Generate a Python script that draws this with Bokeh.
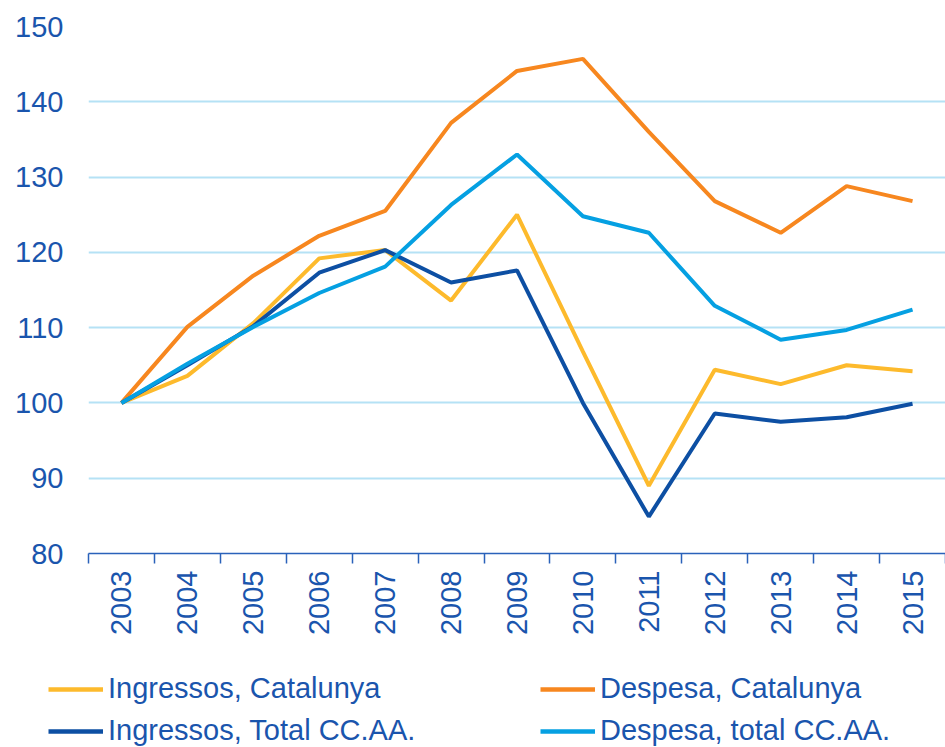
import math
from bokeh.plotting import figure
from bokeh.layouts import column
from bokeh.models import FixedTicker, Legend, LegendItem
from bokeh.embed import file_html
from bokeh.resources import INLINE

years = [2003, 2004, 2005, 2006, 2007, 2008, 2009, 2010, 2011, 2012, 2013, 2014, 2015]
ingressos_cat = [100.0, 103.6, 110.6, 119.2, 120.3, 113.6, 125.0, 106.8, 89.0, 104.4, 102.5, 105.0, 104.2]
despesa_cat = [100.0, 110.1, 116.9, 122.2, 125.5, 137.2, 144.1, 145.7, 136.0, 126.8, 122.6, 128.8, 126.8]
ingressos_tot = [100.0, 105.0, 110.2, 117.3, 120.3, 116.0, 117.6, 100.0, 84.9, 98.6, 97.5, 98.1, 99.9]
despesa_tot = [100.0, 105.2, 110.1, 114.6, 118.1, 126.3, 133.0, 124.8, 122.6, 112.9, 108.4, 109.7, 112.4]
y_ticks = [80, 90, 100, 110, 120, 130, 140, 150]

TEXT = "#1A55AD"
FONT = "Liberation Sans"
FS = "29px"

p = figure(width=945, height=657, output_backend="svg", toolbar_location=None,
           x_range=(2002.5, 2015.5), y_range=(80, 150),
           min_border_left=88, min_border_right=0, min_border_top=26, min_border_bottom=104)
p.frame_align = False
p.outline_line_color = None
p.background_fill_color = "white"

p.xgrid.grid_line_color = None
p.ygrid.grid_line_color = "#B5E2F5"
p.ygrid.grid_line_width = 2

p.yaxis.ticker = FixedTicker(ticks=y_ticks)
p.yaxis.axis_line_color = None
p.yaxis.major_tick_line_color = None
p.yaxis.minor_tick_line_color = None
p.yaxis.major_label_text_font = FONT
p.yaxis.major_label_text_font_size = FS
p.yaxis.major_label_text_color = TEXT
p.yaxis.major_label_standoff = 19

p.xaxis.ticker = FixedTicker(ticks=years, minor_ticks=[y - 0.5 for y in years] + [years[-1] + 0.5])
p.xaxis.axis_line_color = "#2A62BA"
p.xaxis.axis_line_width = 1.5
p.xaxis.major_tick_line_color = None
p.xaxis.minor_tick_line_color = "#2A62BA"
p.xaxis.minor_tick_line_width = 1.5
p.xaxis.minor_tick_in = 0
p.xaxis.minor_tick_out = 10
p.xaxis.major_label_orientation = math.pi / 2
p.xaxis.major_label_text_font = FONT
p.xaxis.major_label_text_font_size = FS
p.xaxis.major_label_text_color = TEXT
p.xaxis.major_label_standoff = 7

series = [
    ("Ingressos, Catalunya", ingressos_cat, "#FDBA2C"),
    ("Despesa, Catalunya", despesa_cat, "#F7871F"),
    ("Ingressos, Total CC.AA.", ingressos_tot, "#0D4FA3"),
    ("Despesa, total CC.AA.", despesa_tot, "#05A0E2"),
]
for name, vals, col in series:
    p.line(years, vals, line_color=col, line_width=4)

# legend panel (separate figure below the chart; its own lines lie outside its view)
lp = figure(width=945, height=90, output_backend="svg", toolbar_location=None,
            x_axis_type=None, y_axis_type=None,
            x_range=(0, 1), y_range=(0, 1),
            min_border_left=0, min_border_right=0, min_border_top=0, min_border_bottom=0)
lp.frame_align = False
lp.grid.visible = False
lp.outline_line_color = None
lrend = {}
for name, vals, col in series:
    lrend[name] = lp.line(years, vals, line_color=col, line_width=4.5)

def make_legend(names, x, y):
    lg = Legend(items=[LegendItem(label=n, renderers=[lrend[n]]) for n in names],
                location=(x, y), orientation="vertical")
    lg.border_line_color = None
    lg.background_fill_alpha = 0
    lg.padding = 0
    lg.margin = 0
    lg.spacing = 9
    lg.glyph_width = 55
    lg.glyph_height = 30
    lg.label_height = 30
    lg.label_standoff = 5
    lg.label_text_font = FONT
    lg.label_text_font_size = FS
    lg.label_text_color = TEXT
    return lg

lp.add_layout(make_legend(["Ingressos, Catalunya", "Ingressos, Total CC.AA."], 48, 0))
lp.add_layout(make_legend(["Despesa, Catalunya", "Despesa, total CC.AA."], 540, 0))

open("out.html", "w").write(file_html(column(p, lp, spacing=0), INLINE))
